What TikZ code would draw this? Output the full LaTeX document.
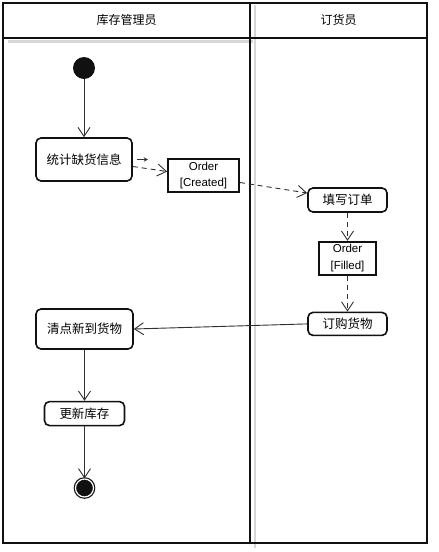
\documentclass[tikz,border=0pt]{standalone}
\usepackage{fontspec}
\setmainfont{Liberation Sans}
\newfontfamily\cjk{Noto Sans CJK SC}
\usetikzlibrary{arrows.meta,positioning}
\definecolor{ink}{HTML}{111111}
\definecolor{flowgrey}{HTML}{303030}
\definecolor{shadowgrey}{HTML}{D6D6D6}
\tikzset{
  actbox/.style={draw=ink, fill=white, rounded corners=5pt, line width=1.6pt, align=center, font=\cjk\fontsize{12.5}{15}\selectfont, inner sep=2pt},
  objbox/.style={draw=ink, fill=white, line width=1.8pt, align=center, font=\fontsize{11.5}{16.5}\selectfont, inner sep=1pt},
  startdot/.style={circle, fill=ink, minimum size=22pt, inner sep=0pt},
  enddot/.style={circle, fill=ink, draw=ink, line width=1.2pt, double=white, double distance=1.2pt, minimum size=18pt, inner sep=0pt},
  flow/.style={-{Straight Barb[length=9pt,width=12pt]}, line width=0.9pt, flowgrey},
  objflow/.style={flow, dash pattern=on 5pt off 4pt},
  lane/.style={line width=2pt, ink},
  lanehead/.style={font=\cjk\fontsize{12}{14}\selectfont},
}

\begin{document}
\begin{tikzpicture}[x=1pt, y=-1pt]
  \useasboundingbox (0,0) rectangle (439,552);
  % swimlanes
  \draw[shadowgrey, line width=2pt] (255,5) -- (255,548);
  \draw[shadowgrey, line width=2.5pt] (8,41.5) -- (253,41.5);
  \draw[lane] (3,3) rectangle (427,543);
  \draw[lane] (3,38) -- (427,38);
  \draw[lane] (250,3) -- (250,543);
  \node[lanehead] (keeper) at (126.5,20) {库存管理员};
  \node[lanehead] (buyer) at (338.5,20) {订货员};

  % activities and objects
  \node[startdot] (start) at (84,68) {};
  \node[actbox, minimum width=96pt, minimum height=43pt, below=58pt of start] (count) {统计缺货信息};
  \node[objbox, minimum width=71pt, minimum height=33pt] (created) at (203.5,175.5) {Order\\{}[Created]};
  \node[actbox, minimum width=79pt, minimum height=24pt] (fillin) at (347.5,200) {填写订单};
  \node[objbox, minimum width=57pt, minimum height=33pt, below=28pt of fillin] (filled) {Order\\{}[Filled]};
  \node[actbox, minimum width=79pt, minimum height=23pt, below=36pt of filled] (purchase) {订购货物};
  \node[actbox, minimum width=97pt, minimum height=40pt] (check) at (84.5,329) {清点新到货物};
  \node[actbox, minimum width=80pt, minimum height=24pt, below=51pt of check] (update) {更新库存};
  \node[enddot, below=52pt of update] (finish) {};

  % flows
  \draw[flow] (start) -- (count);
  \draw[-{Stealth[length=4pt,width=4.5pt]}, line width=0.9pt, flowgrey] ([xshift=4pt]count.east) -- ([xshift=15pt]count.east);
  \draw[objflow] ([yshift=-7pt]count.east) -- ([yshift=4pt]created.west);
  \draw[objflow] ([yshift=-7pt]created.east) -- ([yshift=7pt]fillin.west);
  \draw[objflow] (fillin) -- (filled);
  \draw[objflow] (filled) -- (purchase);
  \draw[flow] (purchase.west) -- (check.east);
  \draw[flow] (check) -- (update);
  \draw[flow] (update) -- (finish);
\end{tikzpicture}
\end{document}
